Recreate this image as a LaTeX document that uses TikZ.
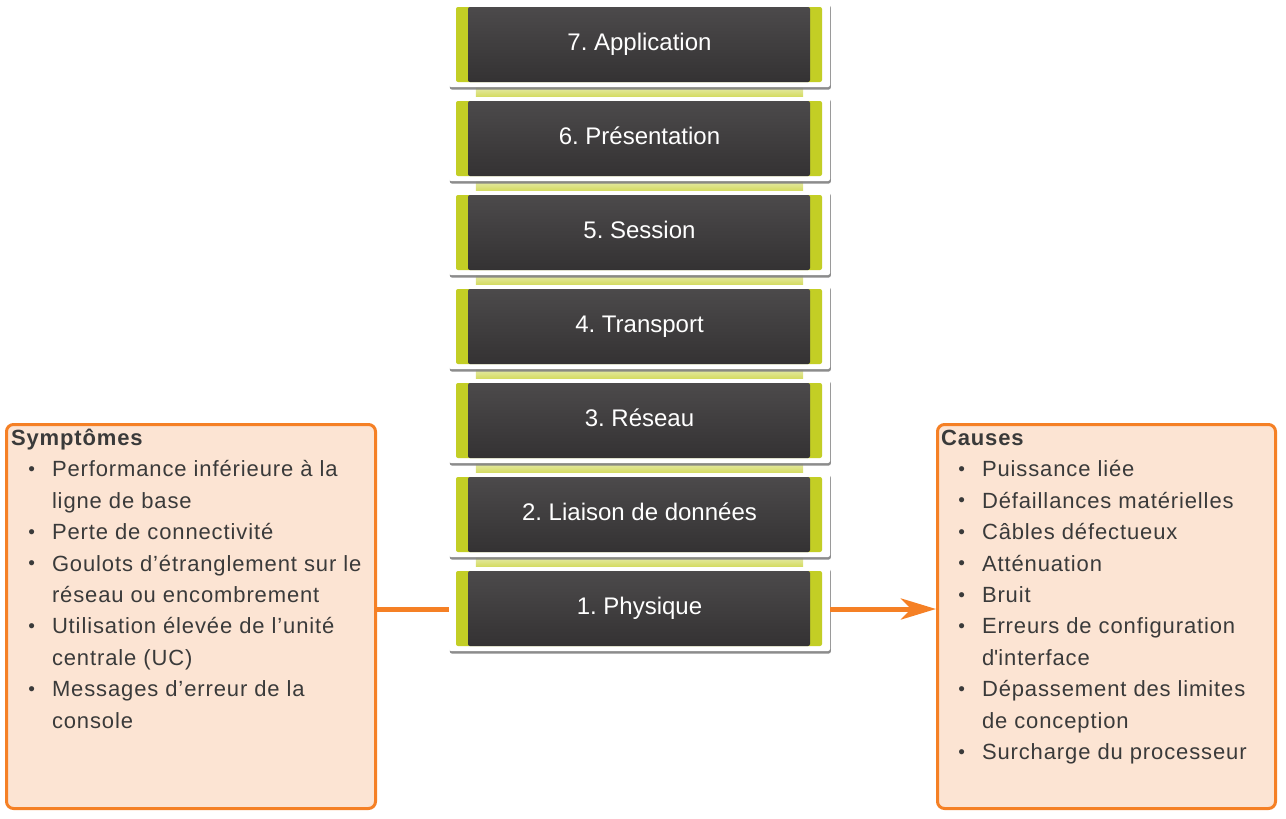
\documentclass[tikz,border=0pt]{standalone}
\usepackage{fontspec}
\setmainfont{Liberation Sans}
\newfontfamily\listfont[LetterSpace=4]{Liberation Sans}
\usepackage{enumitem}
\usetikzlibrary{arrows.meta,shadows,backgrounds}
\definecolor{layergreen}{RGB}{195,206,37}
\definecolor{layertop}{RGB}{76,74,75}
\definecolor{layerbottom}{RGB}{52,50,51}
\definecolor{bandtop}{RGB}{230,234,168}
\definecolor{bandbottom}{RGB}{211,219,95}
\definecolor{panelorange}{RGB}{245,128,37}
\definecolor{panelfill}{RGB}{252,228,211}
\definecolor{listtext}{RGB}{58,58,58}
\setlist[itemize]{leftmargin=41pt,labelsep=17pt,topsep=0pt,itemsep=0pt,parsep=0pt,partopsep=0pt,
    label=\raisebox{1.5pt}{\fontsize{19}{19}\selectfont\textbullet}}
\frenchspacing
\begin{document}
\begin{tikzpicture}[x=1pt,y=1pt]
    \tikzstyle{every node}+=[inner sep=0pt]
    \tikzstyle{layer}=[minimum width=381pt, minimum height=84pt, fill=white, rounded corners=2pt,
        drop shadow={shadow xshift=0.8pt, shadow yshift=-2.5pt, opacity=0.9},
        text=white, font=\fontsize{24}{24}\selectfont, text height=17pt, text depth=7pt,
        path picture={
            \fill [layergreen] ([shift={(7pt,-4pt)}]path picture bounding box.north west) rectangle ([shift={(-8pt,5pt)}]path picture bounding box.south east);
            \shade [top color=layertop, bottom color=layerbottom] ([shift={(19pt,-4pt)}]path picture bounding box.north west) rectangle ([shift={(-20pt,5pt)}]path picture bounding box.south east);
        }]
    \tikzstyle{panel}=[draw=panelorange, line width=3pt, fill=panelfill, rounded corners=7pt, anchor=north west,
        text=listtext, inner ysep=3pt, font=\listfont\fontsize{22}{31.4}\selectfont]
    \tikzstyle{wire}=[draw=panelorange, line width=5pt]
    \useasboundingbox (0,0) rectangle (1286,-819);
    % the seven layers
    \foreach \n/\name in {7/Application,6/Présentation,5/Session,4/Transport,3/Réseau,2/Liaison de données,1/Physique}
        \node [layer] (L\n) at (639.5,{-45-94*(7-\n)}) {\n.\ \name};
    \begin{scope}[on background layer]
    \foreach \n [evaluate=\n as \m using int(\n+1)] in {1,...,6}
        \shade [top color=bandtop, bottom color=bandbottom] ([xshift=27pt]L\m.south west) rectangle ([xshift=-27pt]L\n.north east);
    \end{scope}
    % symptoms and causes
    \node [panel, inner xsep=4.5pt] (sym) at (5,-423) {\begin{minipage}[t][378pt][t]{360pt}
        \rule{0pt}{18pt}\textbf{Symptômes}
        \begin{itemize}
        \item \mbox{Performance inférieure à la}\newline \mbox{ligne de base}
        \item \mbox{Perte de connectivité}
        \item \mbox{Goulots d’étranglement sur le}\newline \mbox{réseau ou encombrement}
        \item \mbox{Utilisation élevée de l’unité}\newline \mbox{centrale (UC)}
        \item \mbox{Messages d’erreur de la}\newline \mbox{console}
        \end{itemize}
        \end{minipage}};
    \node [panel, inner xsep=3.5pt] (cau) at (936,-423) {\begin{minipage}[t][378pt][t]{331pt}
        \rule{0pt}{18pt}\textbf{Causes}
        \begin{itemize}
        \item \mbox{Puissance liée}
        \item \mbox{Défaillances matérielles}
        \item \mbox{Câbles défectueux}
        \item \mbox{Atténuation}
        \item \mbox{Bruit}
        \item \mbox{Erreurs de configuration}\newline \mbox{d\textquotesingle interface}
        \item \mbox{Dépassement des limites}\newline \mbox{de conception}
        \item \mbox{Surcharge du processeur}
        \end{itemize}
        \end{minipage}};
    \draw [wire] (sym.east |- L1.center) -- (L1.west);
    \draw [wire, -{Stealth[length=35pt,width=21pt,inset=10pt]}] (L1.east) -- (cau.west |- L1.center);
\end{tikzpicture}
\end{document}
